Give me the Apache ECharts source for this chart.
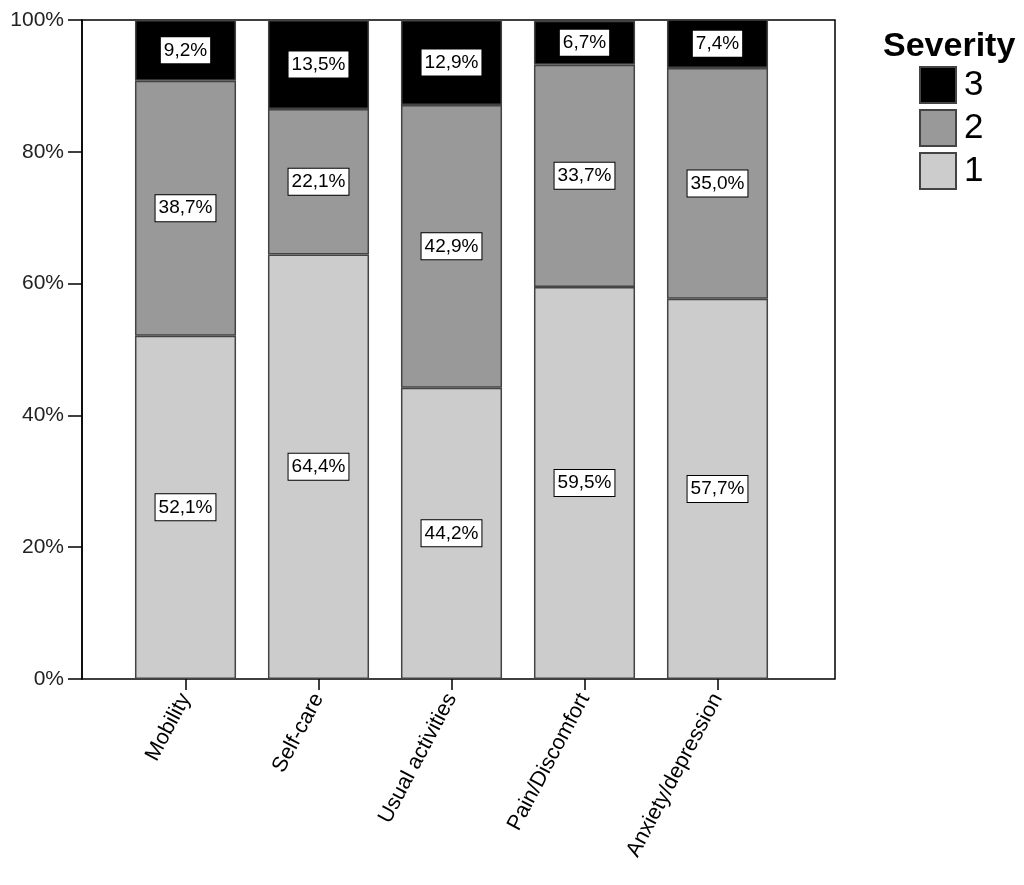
<!DOCTYPE html>
<html lang="en">
<head>
  <meta charset="UTF-8">
  <title>Severity</title>
  <style>
    html, body {margin: 0; padding: 0; background: #fff}
    #chart {width: 1024px; height: 885px}
  </style>
  <script src="https://cdn.jsdelivr.net/npm/echarts@6/dist/echarts.min.js"></script>
</head>
<body>
  <div id="chart"></div>
  <script>
    const categories = ['Mobility', 'Self-care', 'Usual activities', 'Pain/Discomfort', 'Anxiety/depression'];
    const level1 = [52.1, 64.4, 44.2, 59.5, 57.7];
    const level2 = [38.7, 22.1, 42.9, 33.7, 35.0];
    const level3 = [9.2, 13.5, 12.9, 6.7, 7.4];
    const yTicks = [0, 20, 40, 60, 80, 100];

    const font = '"Liberation Sans", Arial, sans-serif';

    function pct(v) {
      return v.toFixed(1).replace('.', ',') + '%';
    }

    function makeSeries(name, data, color) {
      return {
        name: name,
        type: 'bar',
        stack: 'total',
        xAxisIndex: 1,
        yAxisIndex: 1,
        barWidth: '76%',
        data: data,
        clip: false,
        itemStyle: {color: color, borderColor: '#444', borderWidth: 1.5},
        label: {
          show: true,
          position: 'inside',
          formatter: p => pct(p.value),
          fontFamily: font,
          fontSize: 19,
          color: '#000',
          backgroundColor: '#fff',
          borderColor: '#000',
          borderWidth: 1,
          padding: [4, 3, 3, 3]
        },
        emphasis: {disabled: true}
      };
    }

    let chart = echarts.init(document.getElementById('chart'));
    chart.setOption({
      animation: false,
      textStyle: {fontFamily: font},
      title: {
        text: 'Severity',
        left: 878,
        top: 25,
        textStyle: {fontFamily: font, fontSize: 34, fontWeight: 'bold', color: '#000'}
      },
      legend: {
        data: ['3', '2', '1'],
        orient: 'vertical',
        left: 914,
        top: 61,
        icon: 'rect',
        itemWidth: 36,
        itemHeight: 36,
        itemGap: 5,
        selectedMode: false,
        textStyle: {fontFamily: font, fontSize: 35, color: '#000', padding: [0, 0, 0, 3]}
      },
      grid: [
        {left: 82, top: 20, width: 753, height: 659, show: true, borderColor: '#000', borderWidth: 1.5},
        {left: 119, top: 20, width: 665, height: 659}
      ],
      xAxis: [
        {gridIndex: 0, type: 'value', min: 0, max: 1, show: false},
        {
          gridIndex: 1,
          type: 'category',
          data: categories,
          axisLine: {show: false},
          axisTick: {show: true, alignWithLabel: true, length: 11, lineStyle: {color: '#000', width: 1.5}},
          axisLabel: {rotate: 62, fontSize: 21.5, color: '#000', margin: 16, fontFamily: font}
        }
      ],
      yAxis: [
        {
          gridIndex: 0,
          type: 'value',
          min: yTicks[0],
          max: yTicks[yTicks.length - 1],
          interval: 20,
          axisLine: {show: true, lineStyle: {color: '#000', width: 1.5}},
          axisTick: {show: true, length: 14, lineStyle: {color: '#000', width: 1.5}},
          axisLabel: {formatter: '{value}%', fontSize: 21, color: '#222', margin: 18, fontFamily: font},
          splitLine: {show: false}
        },
        {gridIndex: 1, type: 'value', min: 0, max: 100, show: false}
      ],
      series: [
        makeSeries('1', level1, '#cccccc'),
        makeSeries('2', level2, '#999999'),
        makeSeries('3', level3, '#000000')
      ]
    });
  </script>
</body>
</html>
